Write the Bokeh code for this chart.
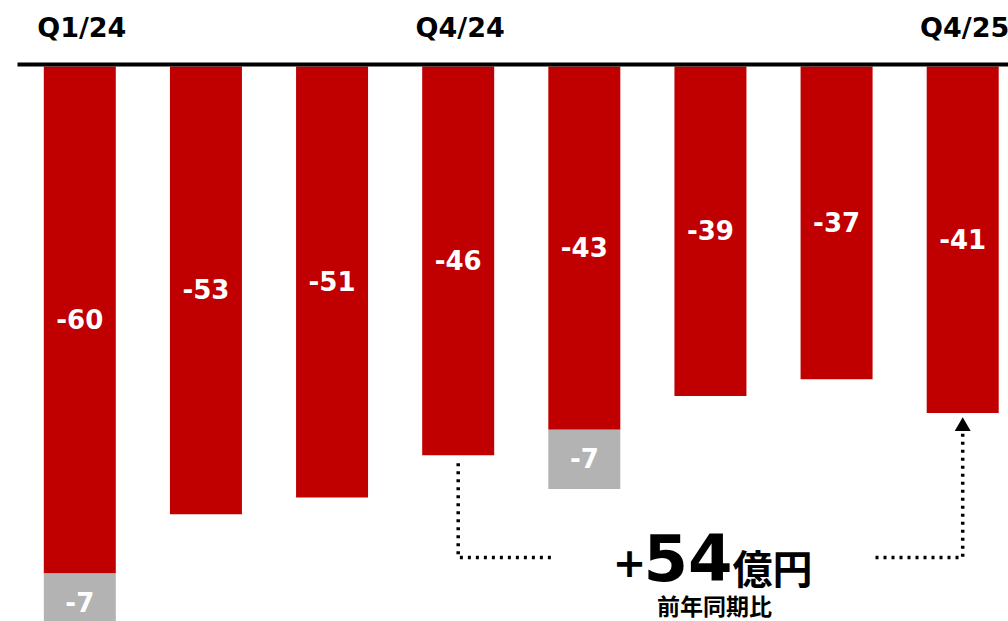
from bokeh.plotting import figure
from bokeh.models import Range1d, ColumnDataSource
from bokeh.core.properties import value
from bokeh.embed import file_html
from bokeh.resources import INLINE

# ---- data ----
quarters = ["Q1/24", "Q2/24", "Q3/24", "Q4/24", "Q1/25", "Q2/25", "Q3/25", "Q4/25"]
red_values = [-60, -53, -51, -46, -43, -39, -37, -41]
gray_values = [-7, 0, 0, 0, -7, 0, 0, 0]
shown_ticks = ["Q1/24", "Q4/24", "Q4/25"]
compare_from = "Q4/24"
compare_to = "Q4/25"
delta_sign = "+"
delta_number = "54"
delta_unit = "億円"
delta_caption = "前年同期比"

# ---- layout helpers (pixel <-> data) ----
W, H = 1008, 621
X0PX, DX = 79.3, 126.13
Y0PX, DY = 66.0, 8.45


def xpx(px):
    return (px - X0PX) / DX


def ypx(px):
    return (Y0PX - px) / DY


RED = "#C00000"
GRAY = "#B3B3B3"
LATIN = value("DejaVu Sans")
CJK = value("Noto Sans CJK JP")

p = figure(width=W, height=H, output_backend="svg", toolbar_location=None, tools="",
           x_range=Range1d(xpx(0), xpx(W)), y_range=Range1d(ypx(H), ypx(0)),
           x_axis_location=None, y_axis_location=None, min_border=0,
           outline_line_color=None, background_fill_color="white",
           border_fill_color="white")
p.xgrid.visible = False
p.ygrid.visible = False

idx = list(range(len(quarters)))
bar_w = 72 / DX

src = ColumnDataSource(dict(
    x=idx,
    zero=[0] * len(idx),
    red=red_values,
    mid=[v / 2 for v in red_values],
    label=[str(v) for v in red_values],
))
p.vbar(x="x", top="zero", bottom="red", width=bar_w, fill_color=RED,
       line_color=None, source=src)

gx = [i for i, g in zip(idx, gray_values) if g != 0]
gsrc = ColumnDataSource(dict(
    x=gx,
    top=[red_values[i] for i in gx],
    bottom=[red_values[i] + gray_values[i] for i in gx],
    mid=[red_values[i] + gray_values[i] / 2 for i in gx],
    label=[str(gray_values[i]) for i in gx],
))
p.vbar(x="x", top="top", bottom="bottom", width=bar_w, fill_color=GRAY,
       line_color=None, source=gsrc)

# value labels
p.text(x="x", y="mid", text="label", source=src, text_color="white",
       text_font=LATIN, text_font_style="bold", text_font_size="26px",
       text_align="center", text_baseline="middle", y_offset=-1)
p.text(x="x", y="mid", text="label", source=gsrc, text_color="white",
       text_font=LATIN, text_font_style="bold", text_font_size="26px",
       text_align="center", text_baseline="middle", y_offset=-1)

# top baseline
p.segment(x0=[xpx(17)], x1=[xpx(W)], y0=[ypx(64)], y1=[ypx(64)],
          line_color="black", line_width=4)

# quarter labels above
tx = [quarters.index(q) for q in shown_ticks]
p.text(x=tx, y=[ypx(27)] * len(tx), text=shown_ticks, text_color="black",
       text_font=LATIN, text_font_style="bold", text_font_size="27px",
       text_align="center", text_baseline="middle", x_offset=2)

# dotted connector
i0 = quarters.index(compare_from)
i1 = quarters.index(compare_to)
b0 = red_values[i0] + gray_values[i0]
b1 = red_values[i1] + gray_values[i1]
level = ypx(557)
p.line(x=[i0, i0, xpx(554)], y=[b0 - 8 / DY, level, level],
       line_color="black", line_width=3.5, line_dash="3 5")
p.line(x=[xpx(875), i1, i1], y=[level, level, b1 - 19 / DY],
       line_color="black", line_width=3.5, line_dash="3 5")
p.scatter(x=[i1], y=[b1 - 13.5 / DY], marker="triangle", size=16,
          fill_color="black", line_color=None)

# delta annotation
xc = (i0 + i1) / 2
p.text(x=[xc], y=[ypx(561)], text=[delta_sign], text_color="black",
       text_font=LATIN, text_font_style="bold", text_font_size="40px",
       text_align="center", text_baseline="middle", x_offset=-81)
p.text(x=[xc], y=[ypx(557)], text=[delta_number], text_color="black",
       text_font=LATIN, text_font_style="bold", text_font_size="64px",
       text_align="left", text_baseline="middle", x_offset=-67)
p.text(x=[xc], y=[ypx(566)], text=[delta_unit], text_color="black",
       text_font=CJK, text_font_style="bold", text_font_size="40px",
       text_align="left", text_baseline="middle", x_offset=22)
p.text(x=[xc], y=[ypx(604)], text=[delta_caption], text_color="black",
       text_font=CJK, text_font_style="bold", text_font_size="23px",
       text_align="center", text_baseline="middle", x_offset=4)

open("out.html", "w").write(file_html(p, INLINE))
